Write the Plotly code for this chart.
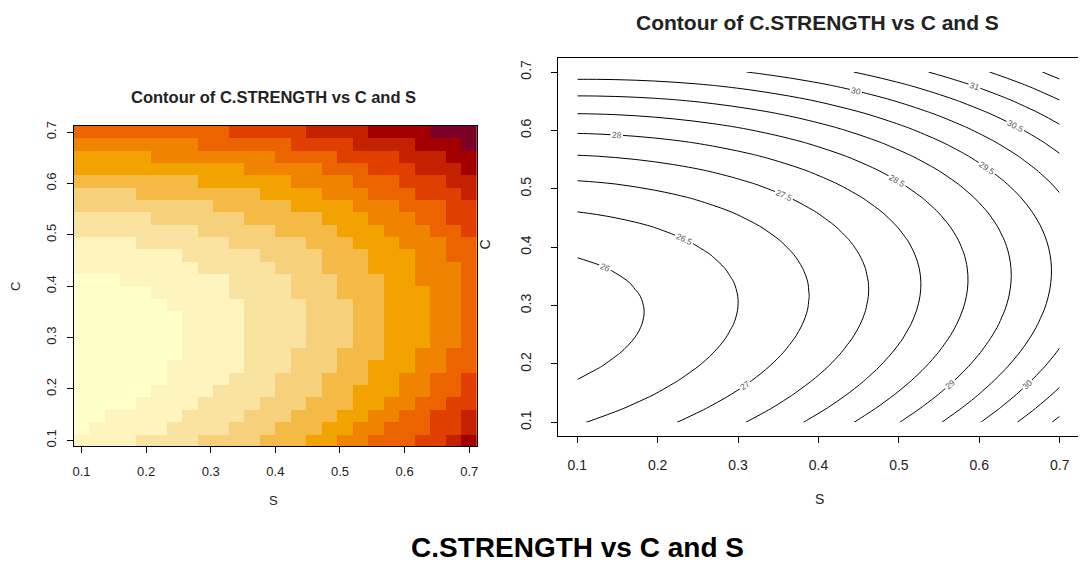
import numpy as np
import plotly.graph_objects as go

# Fitted second-order response surface for C.STRENGTH (estimated from the contour picture)
coef_names = ["intercept", "S", "C", "S^2", "C^2", "S*C"]
coef_values = [27.1422, 2.6328, -11.7771, 7.1751, 22.2953, -6.1329]

# prediction grid (26 x 26, as in the image panel)
s_vals = np.linspace(0.1, 0.7, 26)
c_vals = np.linspace(0.1, 0.7, 26)

# contour levels and tick labels
contour_start, contour_end, contour_step = 26, 32, 0.5
tick_vals = [0.1, 0.2, 0.3, 0.4, 0.5, 0.6, 0.7]
tick_text = ["0.1", "0.2", "0.3", "0.4", "0.5", "0.6", "0.7"]

# image palette (light -> dark, 12 classes)
heat_colors = ["#FFFFC8", "#FEF4BE", "#FAE3A0", "#F6D07A", "#F5BA45", "#F3A300",
               "#F08400", "#EC6400", "#E13F00", "#C42100", "#A20000", "#7A0028"]

b = dict(zip(coef_names, coef_values))
SS, CC = np.meshgrid(s_vals, c_vals)
Z = (b["intercept"] + b["S"] * SS + b["C"] * CC + b["S^2"] * SS**2
     + b["C^2"] * CC**2 + b["S*C"] * SS * CC)

n = len(heat_colors)
cs = []
for i, c in enumerate(heat_colors):
    cs.append([i / n, c])
    cs.append([(i + 1) / n, c])

fig = go.Figure()
fig.add_trace(go.Heatmap(x=s_vals, y=c_vals, z=Z, zmin=Z.min(), zmax=Z.max(),
                         colorscale=cs, showscale=False, xaxis="x", yaxis="y",
                         hoverinfo="x+y+z"))
fig.add_trace(go.Contour(x=s_vals, y=c_vals, z=Z, xaxis="x2", yaxis="y2",
                         contours=dict(start=contour_start, end=contour_end, size=contour_step,
                                       coloring="lines", showlabels=True,
                                       labelfont=dict(size=8.5, color="#555", family="Liberation Sans")),
                         colorscale=[[0, "black"], [1, "black"]], showscale=False,
                         line=dict(width=1)))

OFF = 8  # default page margin of the html body
W, H = 1086 - OFF, 566 - OFF
def px(x): return (x - OFF) / W
def py(y): return 1 - (y - OFF) / H

axcommon = dict(showgrid=False, zeroline=False, showline=True, mirror=True, linecolor="black",
                linewidth=1, ticks="outside", ticklen=6, tickcolor="black",
                tickvals=tick_vals, ticktext=tick_text)
fig.update_layout(
    width=W, height=H, margin=dict(l=0, r=0, t=0, b=0),
    paper_bgcolor="white", plot_bgcolor="white",
    font=dict(family="Liberation Sans", color="#222"),
    xaxis=dict(axcommon, domain=[px(72.9), px(476.8)], range=[0.088, 0.712], anchor="y",
               tickfont=dict(size=13), ticklabelstandoff=7),
    yaxis=dict(axcommon, domain=[py(446.2), py(122.1)], range=[0.088, 0.712], anchor="x",
               tickfont=dict(size=13), tickangle=-90, ticklabelstandoff=6),
    xaxis2=dict(axcommon, domain=[px(558), px(1080)], range=[0.076, 0.724], anchor="y2",
                tickfont=dict(size=14), ticklabelstandoff=10),
    yaxis2=dict(axcommon, domain=[py(436), py(53.5)], range=[0.076, 0.724], anchor="x2",
                tickfont=dict(size=14), tickangle=-90, ticklabelstandoff=14),
    showlegend=False,
)
ann = [
    dict(text="<b>Contour of C.STRENGTH vs C and S</b>", x=px(273), y=py(93), font=dict(size=16.5)),
    dict(text="<b>Contour of C.STRENGTH vs C and S</b>", x=px(818), y=py(18), font=dict(size=21)),
    dict(text="<b>C.STRENGTH vs C and S</b>", x=px(578), y=py(548), font=dict(size=28, color="black")),
    dict(text="S", x=px(273), y=py(501), font=dict(size=13)),
    dict(text="S", x=px(820), y=py(499), font=dict(size=14)),
    dict(text="C", x=px(14), y=py(284), font=dict(size=13), textangle=-90),
    dict(text="C", x=px(485), y=py(242), font=dict(size=14), textangle=-90),
]
for a in ann:
    a.update(xref="paper", yref="paper", showarrow=False, xanchor="center", yanchor="middle")
fig.update_layout(annotations=ann)
fig.write_html("out.html")
